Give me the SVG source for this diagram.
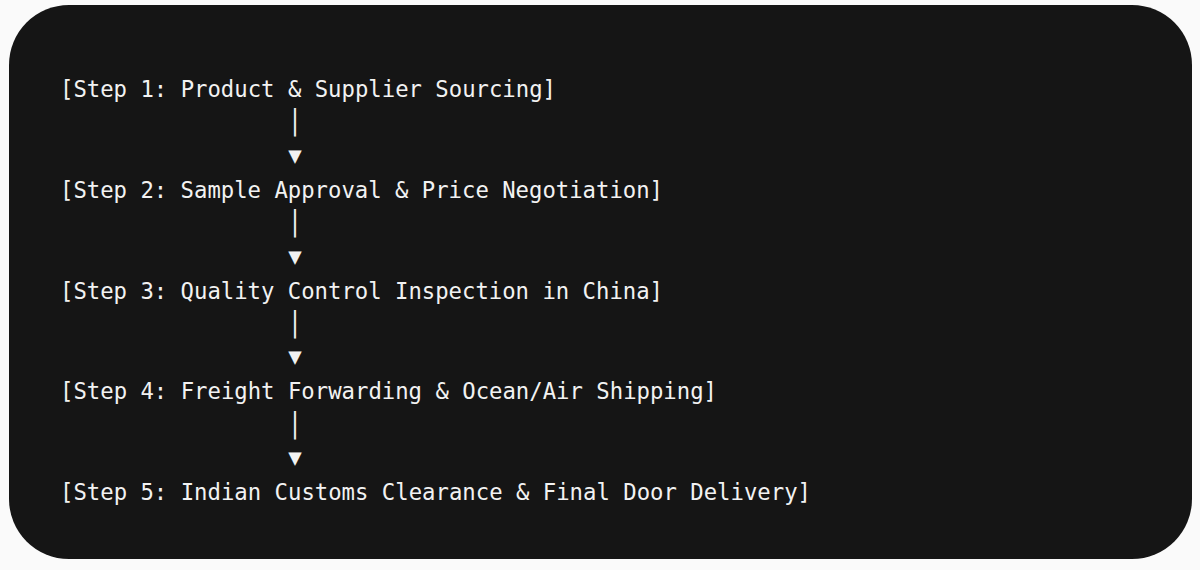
<svg xmlns="http://www.w3.org/2000/svg" width="1200" height="570" viewBox="0 0 1200 570">
<style>
.t{font-family:"DejaVu Sans Mono","Liberation Mono",monospace;font-size:22.4px;fill:#f2f2f2;white-space:pre}
.c{font-family:"DejaVu Sans Mono","Liberation Mono",monospace;font-size:22.4px;fill:#f2f2f2;text-anchor:middle}
</style>
<rect width="1200" height="570" fill="#fafafa"/>
<rect x="9" y="5" width="1183" height="554" rx="60" ry="60" fill="#151515"/>
<g id="step1"><text class="t" x="60" y="97" textLength="496" lengthAdjust="spacingAndGlyphs">[Step 1: Product &amp; Supplier Sourcing]</text></g>
<g id="step2"><text class="t" x="60" y="197.8" textLength="603" lengthAdjust="spacingAndGlyphs">[Step 2: Sample Approval &amp; Price Negotiation]</text></g>
<g id="step3"><text class="t" x="60" y="298.6" textLength="603" lengthAdjust="spacingAndGlyphs">[Step 3: Quality Control Inspection in China]</text></g>
<g id="step4"><text class="t" x="60" y="399.4" textLength="657" lengthAdjust="spacingAndGlyphs">[Step 4: Freight Forwarding &amp; Ocean/Air Shipping]</text></g>
<g id="step5"><text class="t" x="60" y="500.2" textLength="751" lengthAdjust="spacingAndGlyphs">[Step 5: Indian Customs Clearance &amp; Final Door Delivery]</text></g>
<g id="connectors">
<text class="c" transform="translate(295,130.1) scale(1,1.3)">|</text><text class="c" x="295" y="162.8">▼</text>
<text class="c" transform="translate(295,230.9) scale(1,1.3)">|</text><text class="c" x="295" y="263.6">▼</text>
<text class="c" transform="translate(295,331.7) scale(1,1.3)">|</text><text class="c" x="295" y="364.4">▼</text>
<text class="c" transform="translate(295,432.5) scale(1,1.3)">|</text><text class="c" x="295" y="465.2">▼</text>
</g>
</svg>
